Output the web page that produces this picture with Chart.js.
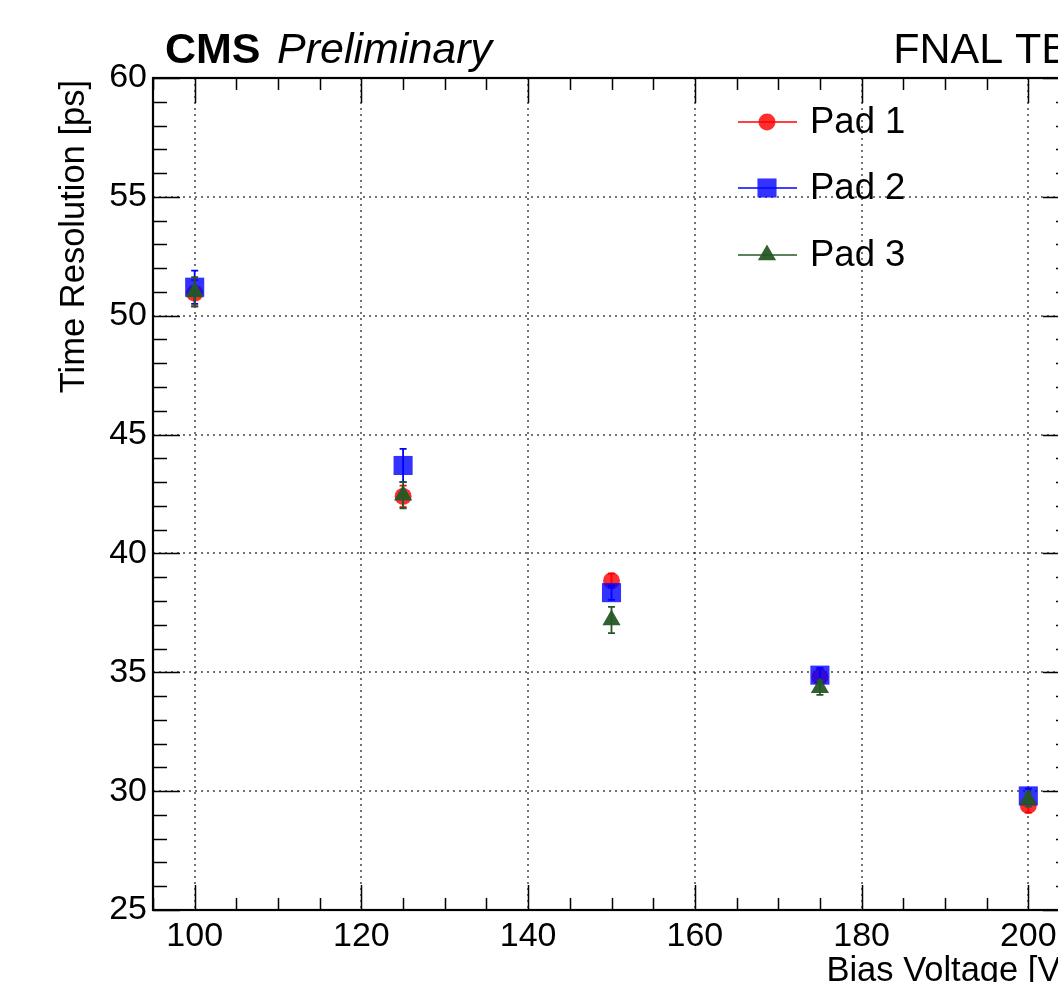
<!DOCTYPE html>
<html>
<head>
<meta charset="utf-8">
<script src="https://cdn.jsdelivr.net/npm/chart.js@4.4.1/dist/chart.umd.min.js"></script>
<style>
html,body{margin:0;padding:0;background:#fff;overflow:hidden;width:1058px;height:982px;}
canvas{display:block;}
</style>
</head>
<body>
<canvas id="c" width="1100" height="982"></canvas>
<script>
// ---- data ----
const biasVoltage = [100, 125, 150, 175, 200];
const pad1 = [50.95, 42.40, 38.85, 34.80, 29.40];
const pad1Err = [0.55, 0.45, 0.30, 0.30, 0.30];
const pad2 = [51.20, 43.70, 38.35, 34.88, 29.80];
const pad2Err = [0.70, 0.70, 0.30, 0.30, 0.30];
const pad3 = [51.00, 42.45, 37.20, 34.35, 29.65];
const pad3Err = [0.62, 0.55, 0.55, 0.30, 0.30];
const seriesNames = ['Pad 1', 'Pad 2', 'Pad 3'];
const xTicks = [100, 120, 140, 160, 180, 200];
const yTicks = [25, 30, 35, 40, 45, 50, 55, 60];
const xMinorStep = 5, yMinorStep = 1;
const xRange = [95, 205], yRange = [25, 60];
const titleLeft = ['CMS', 'Preliminary'];
const titleRight = 'FNAL TB';
const xTitle = 'Bias Voltage [V]';
const yTitle = 'Time Resolution [ps]';

const FONT = "'Liberation Sans', Arial, Helvetica, sans-serif";
const colors = ['rgba(255,0,0,0.82)', 'rgba(0,0,255,0.80)', 'rgba(38,88,38,0.95)'];
const lineColors = ['rgb(255,0,0)', 'rgb(0,0,255)', 'rgb(38,88,38)'];
const styles = ['circle', 'rect', 'triangle'];
const radii = [8.5, 13.5, 10.5];
const errs = [pad1Err, pad2Err, pad3Err];

function mk(vals) { return biasVoltage.map((x, i) => ({x: x, y: vals[i]})); }

const datasets = [pad1, pad2, pad3].map((vals, k) => ({
  label: seriesNames[k],
  data: mk(vals),
  showLine: false,
  pointStyle: styles[k],
  pointRadius: radii[k],
  pointHoverRadius: radii[k],
  pointBackgroundColor: colors[k],
  pointBorderColor: colors[k],
  pointBorderWidth: 0,
  borderColor: lineColors[k],
  backgroundColor: colors[k],
  order: 3 - k,
  errIndex: k
}));

const framePlugin = {
  id: 'frame',
  beforeDatasetsDraw(chart) {
    const {ctx, chartArea: a, scales: {x, y}} = chart;
    ctx.save();
    // dotted grid
    ctx.strokeStyle = 'rgba(0,0,0,0.55)';
    ctx.lineWidth = 2;
    ctx.setLineDash([2, 4]);
    xTicks.forEach(v => {
      const px = Math.round(x.getPixelForValue(v));
      ctx.beginPath(); ctx.moveTo(px, a.top); ctx.lineTo(px, a.bottom); ctx.stroke();
    });
    yTicks.forEach(v => {
      if (v === yRange[0] || v === yRange[1]) return;
      const py = Math.round(y.getPixelForValue(v));
      ctx.beginPath(); ctx.moveTo(a.left, py); ctx.lineTo(a.right, py); ctx.stroke();
    });
    ctx.setLineDash([]);
    // ticks
    ctx.strokeStyle = '#000';
    ctx.lineWidth = 1.5;
    for (let v = xRange[0]; v <= xRange[1] + 1e-9; v += xMinorStep) {
      const major = xTicks.includes(v);
      const L = major ? 25 : 12;
      const px = Math.round(x.getPixelForValue(v)) + 0.5;
      ctx.beginPath();
      ctx.moveTo(px, a.bottom); ctx.lineTo(px, a.bottom - L);
      ctx.moveTo(px, a.top); ctx.lineTo(px, a.top + L);
      ctx.stroke();
    }
    for (let v = yRange[0]; v <= yRange[1] + 1e-9; v += yMinorStep) {
      const major = yTicks.includes(v);
      const L = major ? 27 : 14;
      const py = Math.round(y.getPixelForValue(v)) + 0.5;
      ctx.beginPath();
      ctx.moveTo(a.left, py); ctx.lineTo(a.left + L, py);
      ctx.moveTo(a.right, py); ctx.lineTo(a.right - L, py);
      ctx.stroke();
    }
    // frame
    ctx.lineWidth = 2.2;
    ctx.strokeRect(a.left, a.top, a.right - a.left, a.bottom - a.top);
    ctx.restore();
  },
  beforeDatasetDraw(chart, args) {
    const {ctx, scales: {x, y}} = chart;
    const ds = chart.data.datasets[args.index];
    const e = errs[ds.errIndex];
    ctx.save();
    ctx.strokeStyle = lineColors[ds.errIndex];
    ctx.lineWidth = 1.8;
    ds.data.forEach((p, i) => {
      const px = x.getPixelForValue(p.x);
      const y1 = y.getPixelForValue(p.y + e[i]);
      const y2 = y.getPixelForValue(p.y - e[i]);
      ctx.beginPath();
      ctx.moveTo(px, y1); ctx.lineTo(px, y2);
      ctx.moveTo(px - 3.5, y1); ctx.lineTo(px + 3.5, y1);
      ctx.moveTo(px - 3.5, y2); ctx.lineTo(px + 3.5, y2);
      ctx.stroke();
    });
    ctx.restore();
  },
  afterDraw(chart) {
    const {ctx, chartArea: a} = chart;
    ctx.save();
    ctx.fillStyle = '#000';
    ctx.textBaseline = 'alphabetic';
    // header
    ctx.textAlign = 'left';
    ctx.font = 'bold 43px ' + FONT;
    ctx.fillText(titleLeft[0], 165, 63);
    ctx.font = 'italic 43px ' + FONT;
    ctx.fillText(titleLeft[1], 277, 63);
    ctx.font = '43px ' + FONT;
    ctx.textAlign = 'right';
    ctx.fillText(titleRight, a.right, 63);
    // axis titles
    ctx.font = '34.5px ' + FONT;
    ctx.textAlign = 'right';
    ctx.fillText(xTitle, a.right, 981);
    ctx.save();
    ctx.translate(84, a.top + 2);
    ctx.rotate(-Math.PI / 2);
    ctx.font = '34.5px ' + FONT;
    ctx.textAlign = 'right';
    ctx.fillText(yTitle, 0, 0);
    ctx.restore();
    // legend
    const rows = [122, 188, 255];
    chart.data.datasets.forEach((ds, k) => {
      const yy = rows[k];
      ctx.strokeStyle = lineColors[k];
      ctx.lineWidth = 1.5;
      ctx.beginPath(); ctx.moveTo(738, yy); ctx.lineTo(797, yy); ctx.stroke();
      ctx.fillStyle = colors[k];
      ctx.strokeStyle = colors[k];
      Chart.helpers.drawPoint(ctx, {pointStyle: styles[k], radius: radii[k], rotation: 0, borderWidth: 0}, 767, yy);
      ctx.fillStyle = '#000';
      ctx.font = '36.5px ' + FONT;
      ctx.textAlign = 'left';
      ctx.textBaseline = 'middle';
      ctx.fillText(ds.label, 810, yy + 1);
    });
    ctx.restore();
  }
};

new Chart(document.getElementById('c'), {
  type: 'scatter',
  data: {datasets: datasets},
  options: {
    responsive: false,
    animation: false,
    events: [],
    layout: {padding: {left: 0, right: 30, top: 78, bottom: 0}},
    plugins: {legend: {display: false}, tooltip: {enabled: false}, title: {display: false}},
    scales: {
      x: {
        type: 'linear', min: xRange[0], max: xRange[1],
        grid: {display: false, drawTicks: false},
        border: {display: false},
        afterBuildTicks: s => { s.ticks = xTicks.map(v => ({value: v})); },
        afterFit: s => { s.height = 72; },
        ticks: {color: '#000', padding: 6, autoSkip: false, maxRotation: 0,
                font: {family: FONT, size: 34}}
      },
      y: {
        type: 'linear', min: yRange[0], max: yRange[1],
        grid: {display: false, drawTicks: false},
        border: {display: false},
        afterBuildTicks: s => { s.ticks = yTicks.map(v => ({value: v})); },
        afterFit: s => { s.width = 153; },
        ticks: {color: '#000', padding: 6, autoSkip: false,
                font: {family: FONT, size: 34}}
      }
    }
  },
  plugins: [framePlugin]
});
</script>
</body>
</html>
